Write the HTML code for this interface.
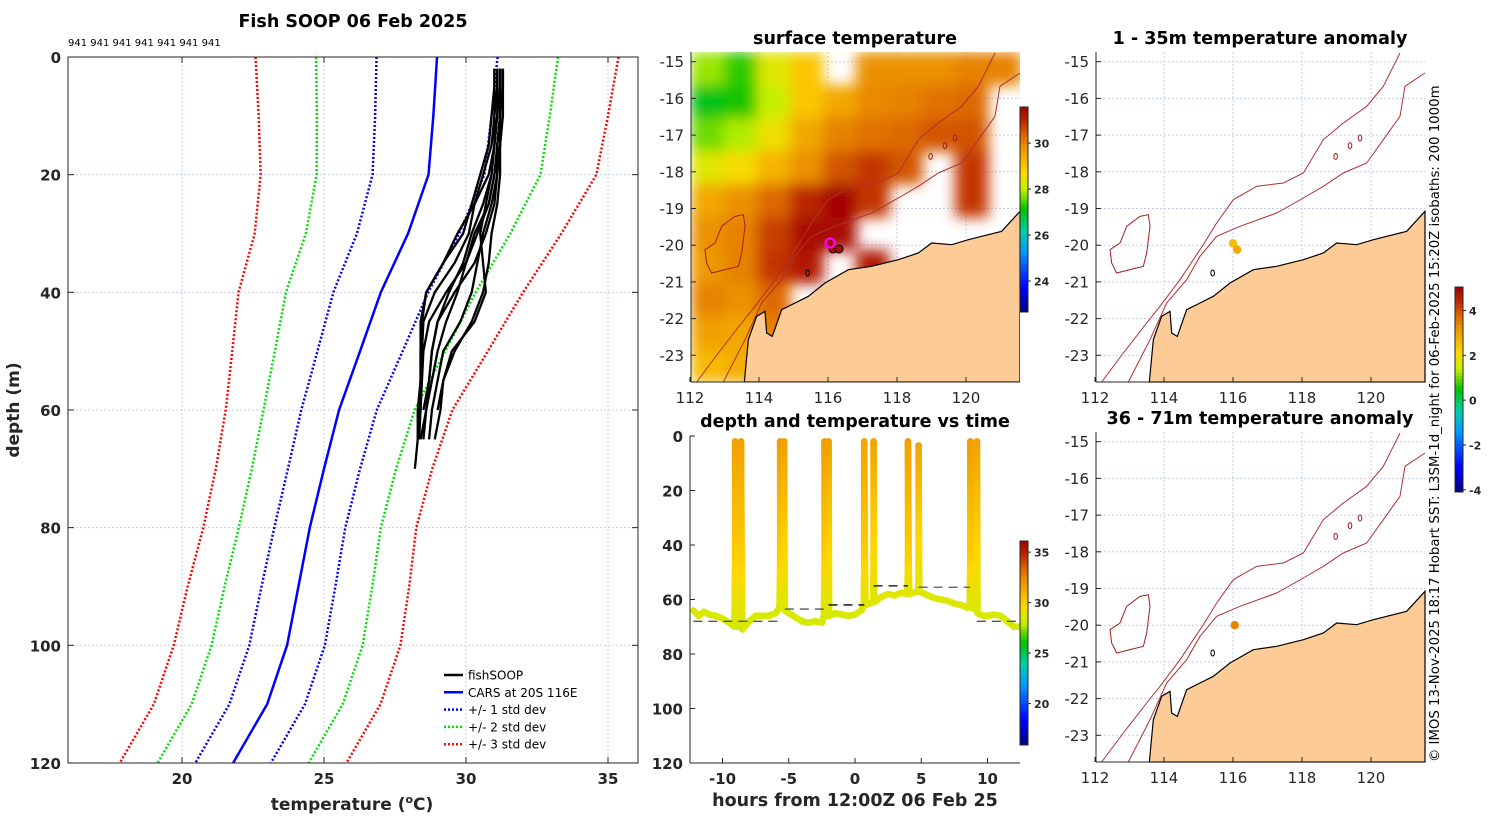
<!DOCTYPE html>
<html><head><meta charset="utf-8"><style>
html,body{margin:0;padding:0;background:#fff;}
svg{display:block;font-family:"DejaVu Sans","Liberation Sans",sans-serif;}
</style></head><body>
<svg id="fig" width="1500" height="820" viewBox="0 0 1500 820" xmlns="http://www.w3.org/2000/svg">
<defs>
<filter id="blur" x="-5%" y="-5%" width="110%" height="110%"><feGaussianBlur stdDeviation="7"/></filter>
<clipPath id="clipMid"><rect x="691" y="52" width="329" height="330"/></clipPath>
</defs>
</svg>
<script>
// ---------- DATA ----------
const carsDepth=[0,10,20,30,40,50,60,70,80,90,100,110,120];
const carsMean=[28.98,28.85,28.68,27.96,27.0,26.27,25.53,25.0,24.5,24.1,23.7,23.0,21.8];
const carsStd=[2.13,2.05,1.97,1.8,1.67,1.5,1.33,1.27,1.25,1.3,1.33,1.33,1.33];
const soopDepth=[2,5,10,15,20,25,30,35,40,45,50,55,60,65,70];
const soop1=[31.0,31.0,31.0,31.0,30.8,30.3,29.7,29.2,28.6,28.4,28.4,28.4,28.3,28.3,28.2];
const soop2=[31.2,31.2,31.2,31.1,31.0,30.8,30.4,30.0,29.3,28.7,28.5,28.45,28.4,28.35,null];
const soop3=[31.1,31.1,31.0,30.9,30.6,30.3,30.1,29.6,28.9,28.5,28.45,28.4,28.4,null,null];
const soop4=[31.3,31.3,31.3,31.2,31.2,31.1,30.9,30.8,30.6,30.2,29.6,29.2,29.0,null,null];
const soop5=[31.2,31.2,31.2,31.1,31.1,30.9,30.6,30.4,30.2,29.8,29.2,29.0,28.8,28.7,null];
const soop6=[31.0,31.0,30.9,30.8,30.5,30.2,29.9,29.2,28.6,28.45,28.4,28.4,28.35,28.3,null];
const soop7=[31.3,31.3,31.2,31.2,31.1,31.0,30.7,30.3,29.6,29.0,28.8,28.7,28.6,28.5,null];
const soop8=[31.2,31.2,31.1,31.0,30.9,30.6,30.2,29.9,29.4,29.0,28.8,28.7,28.5,null,null];
const soop9=[31.1,31.1,31.1,31.0,30.9,30.7,30.5,30.6,30.7,30.3,29.5,29.2,29.1,28.9,null];
const soop10=[31.2,31.2,31.2,31.2,31.0,30.8,30.3,30.0,29.7,29.3,29.0,28.8,28.6,28.4,null];
const soopProfiles=[soop1,soop2,soop3,soop4,soop5,soop6,soop7,soop8,soop9,soop10];
const tempTicks=[20,25,30,35];
const depthTicks=[0,20,40,60,80,100,120];

// time series (hours, depth m, temp C)
const tsTime=[-12.2,-11.8,-11.4,-11,-10.5,-10,-9.5,-9.1,-9.05,-9.05,-9.0,-8.95,
 -8.62,-8.6,-8.6,-8.55,-8.5,-8,-7.5,-7,-6.5,-6,-5.7,-5.65,-5.65,-5.6,-5.55,
 -5.38,-5.35,-5.35,-5.3,-5,-4.5,-4,-3.5,-3,-2.5,-2.35,-2.3,-2.3,-2.25,-2.2,
 -2.02,-2.0,-2.0,-1.95,-1.5,-1,-0.5,0,0.5,0.66,0.7,0.7,0.75,0.8,
 1.38,1.4,1.4,1.45,2,2.5,3,3.5,3.95,4.0,4.0,4.05,4.1,
 4.78,4.8,4.8,4.85,5.5,6,6.5,7,7.5,8,8.5,8.65,8.7,8.7,8.75,8.8,
 9.18,9.2,9.2,9.25,9.7,10,10.5,11,11.5,12,12.3];
const tsDepth=[64,66,64.5,65.5,66,67,68.5,70,45,2,45,70,
 70,45,2,45,71,68,66,66,66,65,63,45,2,45,63,
 63,45,2,64,65,66.5,68,68.5,68,68.5,66,45,2,45,66,
 66,45,2,66,65,65.5,66,65.5,64,62,45,2,45,62,
 61,45,2,61,59,58,58.5,57.5,58,45,2,45,58,
 57,45,3.5,57,58.5,59.5,60,60.5,61.5,62,63,62,45,2,45,63,
 64,45,2,65,66,66,65.5,66,68,70,70];
const tsTemp=[28.6,28.5,28.6,28.5,28.5,28.5,28.4,28.4,30.0,31.6,30.0,28.4,
 28.4,30.0,31.6,30.0,28.4,28.5,28.5,28.5,28.5,28.6,28.6,30.0,31.7,30.0,28.6,
 28.6,30.0,31.7,28.6,28.5,28.5,28.4,28.4,28.4,28.4,28.5,30.0,31.7,30.0,28.5,
 28.5,30.0,31.7,28.5,28.5,28.5,28.5,28.5,28.6,28.6,30.0,31.5,30.0,28.6,
 28.7,30.0,31.5,28.7,28.7,28.8,28.7,28.8,28.7,30.0,31.6,30.0,28.7,
 28.7,30.1,31.5,28.7,28.7,28.6,28.6,28.6,28.6,28.6,28.5,28.6,30.0,31.7,30.0,28.6,
 28.6,30.0,31.6,28.6,28.5,28.5,28.5,28.5,28.4,28.4,28.4];
const tsBottomStart=[-12.2,-5.3,-2.0,1.4,4.8,9.2];
const tsBottomEnd=[-5.4,-2.3,0.7,4.0,8.7,12.4];
const tsBottomDepth=[68,63.5,62,55,55.5,68];
const hourTicks=[-10,-5,0,5,10];

// SST grid 10x10 (rows north->south, cols west->east), null = no data
const sstGrid=[
 [27.8,27.3,28.3,29.0,null,29.8,29.8,29.8,30.0,30.0],
 [27.0,27.2,28.0,29.0,29.5,29.9,30.0,30.2,30.3,null],
 [27.6,27.9,28.5,29.5,30.0,30.2,30.3,30.5,30.5,null],
 [28.3,28.6,29.3,29.8,30.5,30.8,30.5,null,30.8,null],
 [29.5,29.8,30.3,31.0,31.5,30.8,null,null,30.8,null],
 [29.8,30.0,30.7,31.4,31.4,null,null,null,null,null],
 [29.7,30.0,30.8,31.2,null,31.2,null,null,null,null],
 [30.0,29.8,30.3,null,null,null,null,null,null,null],
 [29.6,29.5,30.0,31.5,null,null,null,null,null,null],
 [29.2,29.4,null,null,null,null,null,null,null,null]];
const sstTicks=[30,28,26,24];
const tsCbTicks=[35,30,25,20];
const anomTicks=[4,2,0,-2,-4];
const lonTicks=[112,114,116,118,120];
const latTicks=[-15,-16,-17,-18,-19,-20,-21,-22,-23];
const anomTop=[{lon:116.0,lat:-19.95,v:2.6},{lon:116.12,lat:-20.12,v:2.9}];
const anomBot=[{lon:116.05,lat:-20.0,v:3.4}];

// map shapes in reference-crop coordinates (map box spans 18..1005 x 37..1027)
const coast=[[178,1027],[190,900],[215,830],[240,815],[245,880],[262,890],[290,810],[330,790],[370,770],[420,730],[490,690],[560,680],[640,660],[700,640],[740,610],[800,615],[850,600],[950,575],[1005,515],[1005,1027]];
const iso200=[[115,1027],[180,900],[230,790],[290,720],[330,650],[380,590],[450,560],[560,520],[640,475],[700,440],[760,400],[830,370],[880,300],[930,230],[945,140],[1005,100]];
const iso1000=[[35,1027],[100,940],[170,850],[210,800],[270,720],[340,615],[380,550],[430,480],[500,440],[580,430],[640,400],[700,300],[760,250],[830,200],[880,140],[930,40]];
const island=[[60,630],[90,610],[110,560],[150,530],[175,525],[180,560],[170,640],[160,680],[120,690],[80,700],[65,670]];

// ---------- HELPERS ----------
const NS="http://www.w3.org/2000/svg";
const svg=document.getElementById('fig');
function mk(tag,attrs,parent){const e=document.createElementNS(NS,tag);for(const k in attrs)e.setAttribute(k,attrs[k]);(parent||svg).appendChild(e);return e;}
function txt(x,y,s,attrs,parent){const e=mk('text',Object.assign({x:x,y:y,fill:'#262626','font-size':15},attrs),parent);e.textContent=s;return e;}
const stops=[[0,[0,0,127]],[0.12,[0,0,255]],[0.3,[0,160,255]],[0.4,[0,208,160]],[0.5,[0,192,0]],[0.6,[200,240,0]],[0.68,[255,216,0]],[0.78,[240,160,0]],[0.85,[224,112,0]],[0.92,[192,48,0]],[1,[160,0,0]]];
function cmap(f){f=Math.max(0,Math.min(1,f));for(let i=1;i<stops.length;i++){if(f<=stops[i][0]){const a=stops[i-1],b=stops[i];const u=(f-a[0])/(b[0]-a[0]);const c=a[1].map((v,j)=>Math.round(v+(b[1][j]-v)*u));return 'rgb('+c.join(',')+')';}}return 'rgb(160,0,0)';}

// ---------- LEFT PANEL ----------
const xT=t=>182+(t-20)*28.4, yD=d=>57+d*5.883;
let g=mk('g',{});

tempTicks.forEach(t=>{const l=mk('line',{x1:xT(t),x2:xT(t),y1:57,y2:763,stroke:'#c8cdea','stroke-dasharray':'2,2'},g);});
depthTicks.forEach(d=>{const l=mk('line',{x1:68,x2:638,y1:yD(d),y2:yD(d),stroke:'#c8cdea','stroke-dasharray':'2,2'},g);});
const cols={1:'#0000ff',2:'#00e000',3:'#ff0000'};
[3,2,1].forEach(k=>{[-1,1].forEach(s=>{const pts=carsDepth.map((d,i)=>xT(carsMean[i]+s*k*carsStd[i])+','+yD(d)).join(' ');const l=mk('polyline',{points:pts,fill:'none',stroke:cols[k],'stroke-width':2.5,'stroke-dasharray':'2,2'},g);});});
{const l=mk('polyline',{points:carsDepth.map((d,i)=>xT(carsMean[i])+','+yD(d)).join(' '),fill:'none',stroke:'#0000ff','stroke-width':2.5},g);}
soopProfiles.forEach((p,j)=>{const pts=[];p.forEach((t,i)=>{if(t!==null)pts.push(xT(t)+','+yD(soopDepth[i]));});const l=mk('polyline',{points:pts.join(' '),fill:'none',stroke:'#000','stroke-width':2.3,'stroke-linejoin':'round'},g);});
{const r=mk('rect',{x:68,y:57,width:570,height:706,fill:'none',stroke:'#262626','stroke-width':1},g);}
tempTicks.forEach(t=>{mk('line',{x1:xT(t),x2:xT(t),y1:763,y2:757,stroke:'#262626'},g);mk('line',{x1:xT(t),x2:xT(t),y1:57,y2:63,stroke:'#262626'},g);const e=txt(xT(t),784,String(t),{'text-anchor':'middle','font-weight':'bold','font-size':15},g);});
depthTicks.forEach(d=>{mk('line',{x1:68,x2:74,y1:yD(d),y2:yD(d),stroke:'#262626'},g);mk('line',{x1:632,x2:638,y1:yD(d),y2:yD(d),stroke:'#262626'},g);const e=txt(61,yD(d)+6,String(d),{'text-anchor':'end','font-weight':'bold','font-size':15},g);});
{const e=txt(353,27,'Fish SOOP 06 Feb 2025',{'text-anchor':'middle','font-weight':'bold','font-size':17.5,fill:'#000'},g);}
{const e=txt(68,46,'941 941 941 941 941 941 941',{'font-size':10,fill:'#000'},g);}
{const e=txt(19,410,'depth (m)',{'text-anchor':'middle','font-weight':'bold','font-size':17,transform:'rotate(-90 19 410)'},g);}
{const e=mk('text',{x:352,y:810,'text-anchor':'middle','font-weight':'bold','font-size':17,fill:'#262626'},g);e.innerHTML='temperature (<tspan dy="-7" font-size="11">o</tspan><tspan dy="7">C)</tspan>';}
// legend
const legItems=[['fishSOOP','#000',''],['CARS at 20S 116E','#0000ff',''],['+/- 1 std dev','#0000ff','2,2'],['+/- 2 std dev','#00e000','2,2'],['+/- 3 std dev','#ff0000','2,2']];
const lg=mk('g',{},g);
legItems.forEach((it,i)=>{const y=675+i*17.3;const e=mk('g',{},lg);mk('line',{x1:444,x2:463,y1:y,y2:y,stroke:it[1],'stroke-width':2.5,'stroke-dasharray':it[2]||'none'},e);txt(468,y+4.5,it[0],{'font-size':12,fill:'#000'},e);});

// ---------- MAP HELPERS ----------
function zp(ox,oy,p){return [ox+(p[0]-18)/3,oy+(p[1]-37)/3];}
const lonX=(ox,lon)=>ox-1+(lon-112)*34.5, latY=(oy,lat)=>oy+9.7+(-15-lat)*36.7;
function mapFrame(ox,oy,name){
 const mg=mk('g',{});
 lonTicks.forEach(l=>{if(l>112)mk('line',{x1:lonX(ox,l),x2:lonX(ox,l),y1:oy,y2:oy+330,stroke:'#c8cdea','stroke-dasharray':'2,2'},mg);});
 latTicks.forEach(l=>{mk('line',{x1:ox,x2:ox+329,y1:latY(oy,l),y2:latY(oy,l),stroke:'#c8cdea','stroke-dasharray':'2,2'},mg);});
 return mg;
}
function mapShapes(ox,oy,mg){
 const c=mk('polygon',{points:coast.map(p=>zp(ox,oy,p).join(',')).join(' '),fill:'#fccb96',stroke:'#000','stroke-width':1.2},mg);
 const isl=mk('polygon',{points:island.map(p=>zp(ox,oy,p).join(',')).join(' '),fill:'none',stroke:'#a02020','stroke-width':1},mg);
 [[iso200,'isobath-200m'],[iso1000,'isobath-1000m']].forEach(a=>{const l=mk('polyline',{points:a[0].map(p=>zp(ox,oy,p).join(',')).join(' '),fill:'none',stroke:'#b03030','stroke-width':1},mg);});
 [[737,350],[780,318],[810,295],[368,700]].forEach(p=>{const q=zp(ox,oy,p);mk('ellipse',{cx:q[0],cy:q[1],rx:1.8,ry:3,fill:'none',stroke:p[0]===368?'#000':'#a02020','stroke-width':1},mg);});
}
function mapAxes(ox,oy,mg,labY){
 mk('line',{x1:ox,x2:ox,y1:oy,y2:oy+330,stroke:'#262626'},mg);
 mk('line',{x1:ox,x2:ox+329,y1:oy+330,y2:oy+330,stroke:'#262626'},mg);
 lonTicks.forEach(l=>{const x=lonX(ox,l);mk('line',{x1:x,x2:x,y1:oy+330,y2:oy+325,stroke:'#262626'},mg);const e=txt(x,labY,String(l),{'text-anchor':'middle'},mg);});
 latTicks.forEach(l=>{const y=latY(oy,l);mk('line',{x1:ox,x2:ox+5,y1:y,y2:y,stroke:'#262626'},mg);const e=txt(ox-7,y+5.5,String(l),{'text-anchor':'end'},mg);});
}
function colorbar(x,y0,y1,vmin,vmax,ticks,name){
 const cg=mk('g',{});
 const n=60;for(let i=0;i<n;i++){const h=(y1-y0)/n;mk('rect',{x:x,y:y0+i*h,width:8,height:h+0.5,fill:cmap(1-(i+0.5)/n)},cg);}
 mk('rect',{x:x,y:y0,width:8,height:y1-y0,fill:'none',stroke:'#262626'},cg);
 ticks.forEach(t=>{const y=y1-(t-vmin)/(vmax-vmin)*(y1-y0);mk('line',{x1:x+8,x2:x+11,y1:y,y2:y,stroke:'#262626'},cg);const e=txt(x+14,y+4.5,String(t),{'font-size':11,'font-weight':'bold'},cg);});
}

// ---------- SST MAP ----------
{const ox=691,oy=52;const mg=mapFrame(ox,oy,'sst-map');
 const fg=mk('g',{'clip-path':'url(#clipMid)'},mg);const hg=mk('g',{filter:'url(#blur)'},fg);
 sstGrid.forEach((row,r)=>row.forEach((v,c)=>{if(v===null)return;const e=mk('rect',{x:ox+c*33,y:oy+r*33,width:33.5,height:33.5,fill:cmap((v-22.65)/(31.57-22.65))},hg);}));
 mapShapes(ox,oy,fg);
 mk('circle',{cx:833,cy:249,r:4,fill:'#a01000',stroke:'#000'},mg);mk('circle',{cx:839,cy:249,r:4,fill:'#a01000',stroke:'#000'},mg);
 const sh=mk('circle',{cx:830,cy:243,r:4.5,fill:'#a01000',stroke:'#ff00ff','stroke-width':2.2},mg);
 mapAxes(ox,oy,mg,403);
 const e=txt(855,44,'surface temperature',{'text-anchor':'middle','font-weight':'bold','font-size':17.5,fill:'#000'},mg);
 colorbar(1020,107,312,22.65,31.57,sstTicks,'sst-colorbar');
}

// ---------- TIME SERIES ----------
const xH=h=>855+h*13.25, yDt=d=>436+d*2.725;
{const tg=mk('g',{});
 for(let i=1;i<tsTime.length;i++){const x0=xH(tsTime[i-1]),y0=yDt(tsDepth[i-1]),x1=xH(tsTime[i]),y1=yDt(tsDepth[i]);const L=Math.hypot(x1-x0,y1-y0);const n=Math.max(1,Math.ceil(L/1.6));
  for(let k=0;k<=n;k++){const u=k/n;const t=tsTemp[i-1]+(tsTemp[i]-tsTemp[i-1])*u;mk('circle',{cx:x0+(x1-x0)*u,cy:y0+(y1-y0)*u,r:3.3,fill:cmap((t-15.9)/20.2)},tg);}}
 tsBottomStart.forEach((s,i)=>{const l=mk('line',{x1:xH(s),x2:xH(tsBottomEnd[i]),y1:yDt(tsBottomDepth[i]),y2:yDt(tsBottomDepth[i]),stroke:i===2||i===3?'#000':'#555','stroke-width':1.3,'stroke-dasharray':'9,6'},tg);});
 mk('line',{x1:690,x2:690,y1:436,y2:763,stroke:'#262626'},tg);mk('line',{x1:690,x2:1020,y1:763,y2:763,stroke:'#262626'},tg);
 depthTicks.forEach(d=>{mk('line',{x1:690,x2:695,y1:yDt(d),y2:yDt(d),stroke:'#262626'},tg);const e=txt(683,yDt(d)+6,String(d),{'text-anchor':'end','font-weight':'bold','font-size':15},tg);});
 hourTicks.forEach(h=>{mk('line',{x1:xH(h),x2:xH(h),y1:763,y2:758,stroke:'#262626'},tg);const e=txt(xH(h),784,String(h),{'text-anchor':'middle','font-weight':'bold','font-size':15},tg);});
 let e=txt(855,427,'depth and temperature vs time',{'text-anchor':'middle','font-weight':'bold','font-size':17.5,fill:'#000'},tg);
 e=txt(855,806,'hours from 12:00Z 06 Feb 25',{'text-anchor':'middle','font-weight':'bold','font-size':17.5},tg);
 colorbar(1020,541,745,15.9,36.1,tsCbTicks,'ts-colorbar');
}

// ---------- ANOMALY MAPS ----------
[[52,403,'anomaly-map-1-35m','1 - 35m temperature anomaly',anomTop],[432,783,'anomaly-map-36-71m','36 - 71m temperature anomaly',anomBot]].forEach(m=>{
 const ox=1096,oy=m[0];const mg=mapFrame(ox,oy,m[2]);mapShapes(ox,oy,mg);
 m[4].forEach(p=>{const d=mk('circle',{cx:lonX(ox,p.lon),cy:latY(oy,p.lat),r:4.2,fill:cmap((p.v+4.1)/9.15)},mg);});
 mapAxes(ox,oy,mg,m[1]);
 const e=txt(1260,oy-8,m[3],{'text-anchor':'middle','font-weight':'bold','font-size':17.5,fill:'#000'},mg);
});
colorbar(1455,287,492,-4.1,5.05,anomTicks,'anomaly-colorbar');
{const e=txt(1439,762,'© IMOS 13-Nov-2025 18:17 Hobart SST: L3SM-1d_night for 06-Feb-2025 15:20Z isobaths: 200  1000m',{'font-size':13.3,fill:'#000',transform:'rotate(-90 1439 762)','xml:space':'preserve'});}
</script>
</body></html>
